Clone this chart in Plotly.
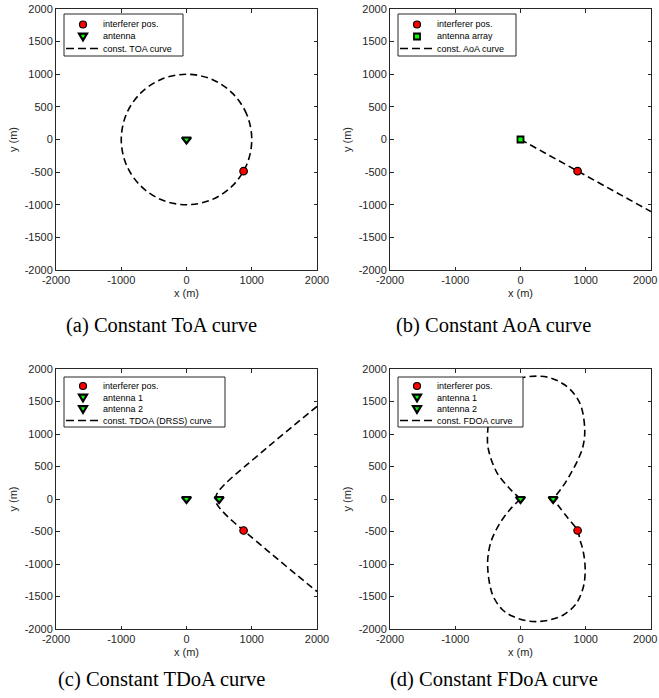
import plotly.graph_objects as go

# ---- geometry (metres) ----
interferer_x = [875]
interferer_y = [-485]
antenna1_x = [0]
antenna1_y = [0]
antenna2_x = [500]
antenna2_y = [0]

# constant TOA curve (circle through the interferer around antenna)
toa_x = [1000, 924, 707, 383, 0, -383, -707, -924, -1000, -924, -707, -383, 0, 383, 707, 924, 1000]
toa_y = [0, 383, 707, 924, 1000, 924, 707, 383, 0, -383, -707, -924, -1000, -924, -707, -383, 0]

# constant AoA curve (ray from the array through the interferer)
aoa_x = [0, 2000]
aoa_y = [0, -1105]

# constant TDOA curve (hyperbola branch)
tdoa_x = [2000, 1600, 1230, 900, 718, 600, 525, 480, 455, 444, 455, 480, 525, 600, 718, 900, 1230, 1600, 2000]
tdoa_y = [1425, 1095, 785, 505, 350, 240, 160, 102, 55, 0, -55, -102, -160, -240, -350, -505, -785, -1095, -1425]

# constant FDOA curve (two lobes meeting at the antennas)
fdoa_up_x = [0, -160, -364, -493, -505, -470, -380, -230, -60, 100, 280, 470, 657, 820, 930, 985, 955, 886, 780, 657, 500]
fdoa_up_y = [0, 154, 411, 769, 1000, 1280, 1520, 1720, 1840, 1880, 1890, 1860, 1769, 1620, 1420, 1050, 800, 616, 410, 205, 0]
fdoa_lo_x = [0, -160, -320, -450, -500, -500, -470, -416, -280, -110, 80, 249, 450, 657, 830, 912, 975, 990, 960, 912, 875, 708, 500]
fdoa_lo_y = [0, -160, -380, -650, -900, -1100, -1320, -1502, -1700, -1809, -1870, -1886, -1860, -1784, -1640, -1502, -1300, -1040, -800, -630, -485, -271, 0]

x_ticks = [-2000, -1000, 0, 1000, 2000]
x_labels = ["-2000", "-1000", "0", "1000", "2000"]
y_ticks = [-2000, -1500, -1000, -500, 0, 500, 1000, 1500, 2000]
y_labels = ["-2000", "-1500", "-1000", "-500", "0", "500", "1000", "1500", "2000"]

captions = ["(a) Constant ToA curve", "(b) Constant AoA curve",
            "(c) Constant TDoA curve", "(d) Constant FDoA curve"]

# ---- page geometry ----
W, H = 659, 698
def px(x):
    return x / W
def py(y):
    return 1 - y / H

AX = "#262626"
SANS = "Liberation Sans, Arial, sans-serif"
SERIF = "Liberation Serif, Times New Roman, serif"
DASH = "7px,4px"
GREEN = "#00ff00"

# plot-area boxes in pixels: (left, right, top, bottom)
boxes = [(56, 317, 9, 270), (390, 651, 9, 270), (56, 317, 369, 629), (390, 651, 369, 629)]

fig = go.Figure()

def curve(x, y, k):
    fig.add_trace(go.Scatter(x=x, y=y, mode="lines", xaxis=f"x{k}", yaxis=f"y{k}",
                             line=dict(color="black", width=1.6, dash=DASH, shape="spline", smoothing=1.0),
                             hoverinfo="skip"))

def tri(x, y, k):
    fig.add_trace(go.Scatter(x=x, y=y, mode="markers", xaxis=f"x{k}", yaxis=f"y{k}",
                             marker=dict(symbol="triangle-down", size=8, color=GREEN,
                                         line=dict(color="black", width=2.2))))

def dot(x, y, k):
    fig.add_trace(go.Scatter(x=x, y=y, mode="markers", xaxis=f"x{k}", yaxis=f"y{k}",
                             marker=dict(symbol="circle", size=7.5, color="#ff0000",
                                         line=dict(color="black", width=1.2))))

# (a) TOA
curve(toa_x, toa_y, "")
tri(antenna1_x, antenna1_y, "")
dot(interferer_x, interferer_y, "")
# (b) AoA
curve(aoa_x, aoa_y, "2")
fig.add_trace(go.Scatter(x=antenna1_x, y=antenna1_y, mode="markers", xaxis="x2", yaxis="y2",
                         marker=dict(symbol="square", size=6, color=GREEN,
                                     line=dict(color="black", width=1.8))))
dot(interferer_x, interferer_y, "2")
# (c) TDOA
curve(tdoa_x, tdoa_y, "3")
tri(antenna1_x, antenna1_y, "3")
tri(antenna2_x, antenna2_y, "3")
dot(interferer_x, interferer_y, "3")
# (d) FDOA
curve(fdoa_up_x, fdoa_up_y, "4")
curve(fdoa_lo_x, fdoa_lo_y, "4")
tri(antenna1_x, antenna1_y, "4")
tri(antenna2_x, antenna2_y, "4")
dot(interferer_x, interferer_y, "4")

layout = dict(width=W, height=H, margin=dict(l=0, r=0, t=0, b=0, autoexpand=False),
              paper_bgcolor="white", plot_bgcolor="white", showlegend=False)

shapes = []
annotations = []

for i, (l, r, t, b) in enumerate(boxes):
    s = "" if i == 0 else str(i + 1)
    right_col = i in (1, 3)
    common = dict(ticks="inside", ticklen=3.5, tickwidth=1, tickcolor=AX, mirror="allticks",
                  showline=True, linecolor=AX, linewidth=1, showgrid=False, zeroline=False,
                  range=[-2000, 2000], fixedrange=True, automargin=False,
                  tickfont=dict(family=SANS, size=11, color=AX))
    # the last x label of the right-hand column sits flush with the page edge
    xt = x_labels[:-1] + [""] if right_col else x_labels
    layout["xaxis" + s] = dict(common, domain=[px(l), px(r)], anchor="y" + s,
                               tickvals=x_ticks, ticktext=xt,
                               title=dict(text="x (m)", font=dict(family=SANS, size=11, color=AX), standoff=4))
    layout["yaxis" + s] = dict(common, domain=[py(b), py(t)], anchor="x" + s,
                               tickvals=y_ticks, ticktext=y_labels,
                               title=dict(text="y (m)", font=dict(family=SANS, size=11, color=AX), standoff=4))
    if right_col:
        annotations.append(dict(xref="paper", yref="paper", x=px(W - 0.5), y=py(b + 9.8),
                                xanchor="right", yanchor="middle", showarrow=False,
                                text=x_labels[-1], font=dict(family=SANS, size=11, color=AX)))


def legend(left, right, top, bottom, rows, entries):
    shapes.append(dict(type="rect", xref="paper", yref="paper", x0=px(left), x1=px(right),
                       y0=py(bottom), y1=py(top), fillcolor="white",
                       line=dict(color=AX, width=1), layer="above"))
    gx = left + 19
    for ry, (kind, label) in zip(rows, entries):
        anc = dict(xref="paper", yref="paper", xsizemode="pixel", ysizemode="pixel",
                   xanchor=px(gx), yanchor=py(ry), layer="above")
        if kind == "circle":
            shapes.append(dict(anc, type="circle", x0=-3.5, x1=3.5, y0=-3.5, y1=3.5,
                               fillcolor="#ff0000", line=dict(color="black", width=1.2)))
        elif kind == "tri":
            shapes.append(dict(anc, type="path", path="M-4,2.8 L4,2.8 L0,-3.8 Z",
                               fillcolor=GREEN, line=dict(color="black", width=2.2)))
        elif kind == "square":
            shapes.append(dict(anc, type="rect", x0=-3, x1=3, y0=-3, y1=3,
                               fillcolor=GREEN, line=dict(color="black", width=1.8)))
        elif kind == "dash":
            shapes.append(dict(type="line", xref="paper", yref="paper", x0=px(left + 2), x1=px(left + 37),
                               y0=py(ry), y1=py(ry), line=dict(color="black", width=1.6, dash="8px,4px"),
                               layer="above"))
        annotations.append(dict(xref="paper", yref="paper", x=px(left + 37), y=py(ry),
                                xanchor="left", yanchor="middle", showarrow=False, text=label,
                                font=dict(family=SANS, size=9, color="black")))

legend(64, 183, 14, 56, [24.5, 36.5, 48.5],
       [("circle", "interferer pos."), ("tri", "antenna"), ("dash", "const. TOA curve")])
legend(398, 516, 14, 56, [24.5, 36.5, 48.5],
       [("circle", "interferer pos."), ("square", "antenna array"), ("dash", "const. AoA curve")])
legend(64, 225, 377, 427, [386, 397.5, 409, 420.5],
       [("circle", "interferer pos."), ("tri", "antenna 1"), ("tri", "antenna 2"),
        ("dash", "const. TDOA (DRSS) curve")])
legend(398, 523, 377, 427, [386, 397.5, 409, 420.5],
       [("circle", "interferer pos."), ("tri", "antenna 1"), ("tri", "antenna 2"),
        ("dash", "const. FDOA curve")])

for (cx, cy), text in zip([(161, 325), (494, 325), (161, 679), (494, 679)], captions):
    annotations.append(dict(xref="paper", yref="paper", x=px(cx), y=py(cy), xanchor="center",
                            yanchor="middle", showarrow=False, text=text,
                            font=dict(family=SERIF, size=20.5, color="black")))

layout["shapes"] = shapes
layout["annotations"] = annotations
fig.update_layout(**layout)
fig.write_html("out.html")
